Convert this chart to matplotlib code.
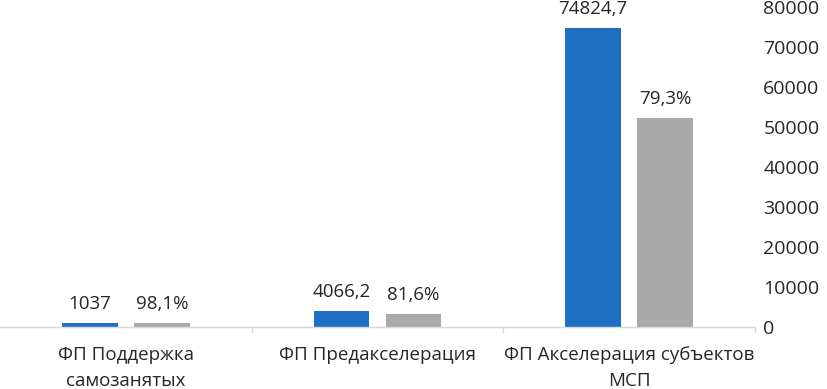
import matplotlib
matplotlib.use("Agg")
import matplotlib.pyplot as plt
import numpy as np

categories = ["ФП Поддержка\nсамозанятых", "ФП Предакселерация", "ФП Акселерация субъектов\nМСП"]
blue_values = [1037, 4066.2, 74824.7]
gray_values = [1017, 3318, 52300]
blue_labels = ["1037", "4066,2", "74824,7"]
gray_labels = ["98,1%", "81,6%", "79,3%"]
yticks = [0, 10000, 20000, 30000, 40000, 50000, 60000, 70000, 80000]

plt.rcParams['font.family'] = ['Open Sans', 'DejaVu Sans']
txt = '#262626'

fig = plt.figure(figsize=(8.27, 3.89), dpi=100)
ax = fig.add_axes([0.0, 62/389, 755/827, 320/389])

x = np.arange(len(categories))
w = 0.222
off = 0.143
b1 = ax.bar(x - off, blue_values, w, color='#1f6fc5')
b2 = ax.bar(x + off, gray_values, w, color='#a9a9a9')

for rect, lab in zip(b1, blue_labels):
    ax.annotate(lab, (rect.get_x() + rect.get_width()/2, rect.get_height()),
                xytext=(0, 7), textcoords='offset points', ha='center', va='bottom',
                fontsize=13.5, color=txt)
for rect, lab in zip(b2, gray_labels):
    ax.annotate(lab, (rect.get_x() + rect.get_width()/2, rect.get_height()),
                xytext=(0, 7), textcoords='offset points', ha='center', va='bottom',
                fontsize=13.5, color=txt)

ax.set_xlim(-0.5, len(categories) - 0.5)
ax.set_ylim(0, 80000)
ax.yaxis.tick_right()
ax.set_yticks(yticks)
ax.set_yticklabels([str(v) for v in yticks], fontsize=14, color=txt)
ax.tick_params(axis='y', length=0, pad=6)

ax.set_xticks(x)
ax.set_xticklabels(categories, fontsize=13.5, color=txt, linespacing=1.55)
ax.tick_params(axis='x', length=0, pad=14)
for xb in [0.5, 1.5, 2.5]:
    ax.plot([xb, xb], [0, -0.017], transform=ax.get_xaxis_transform(),
            color='#d9d9d9', lw=1, clip_on=False)

for s in ['top', 'left', 'right']:
    ax.spines[s].set_visible(False)
ax.spines['bottom'].set_color('#d9d9d9')
ax.spines['bottom'].set_linewidth(1)

fig.savefig('out.png', dpi=100)
